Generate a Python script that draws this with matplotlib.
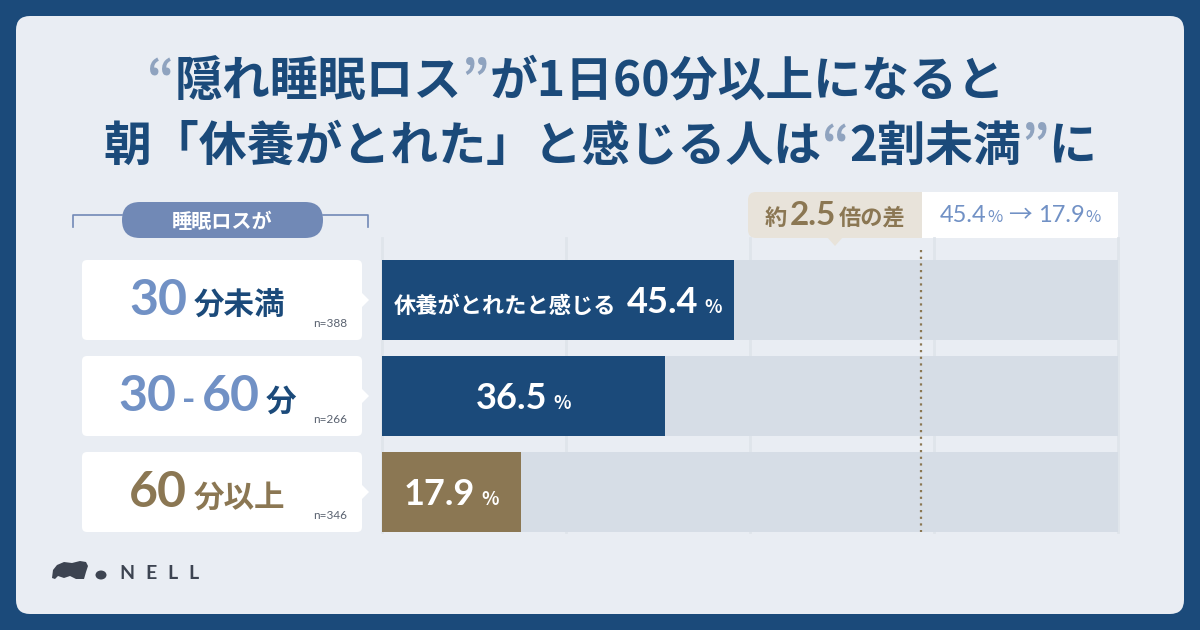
import matplotlib
matplotlib.use('Agg')
from matplotlib import pyplot as plt
from matplotlib.patches import FancyBboxPatch, Polygon, Ellipse, Rectangle

# ---------------------------------------------------------------------------
# data
# ---------------------------------------------------------------------------
title_line1 = ['“', '隠れ睡眠ロス', '”', 'が1日60分以上になると']
title_line2 = ['朝「休養がとれた」と感じる人は', '“', '2割未満', '”', 'に']
group_header = '睡眠ロスが'
group_nums = ['30', '30-60', '60']
group_units = ['分未満', '分', '分以上']
n_sizes = [388, 266, 346]
rested_pct = [45.4, 36.5, 17.9]
bar_prefix = '休養がとれたと感じる'
brand = 'NELL'

# ---------------------------------------------------------------------------
# styles
# ---------------------------------------------------------------------------
OUTER = '#1b4a7a'
PANEL = '#e9edf3'
NAVY = '#1b4a7a'
QUOTE = '#8fa3bf'
LIGHT_BLUE = '#7191c5'
BROWN = '#8b7753'
TRACK = '#d6dde6'
GRID = '#dfe5eb'
PILL = '#7189b6'
BEIGE = '#e8e3da'
GREY = '#5a6270'
LOGO = '#3d4451'

JP = ['Noto Sans CJK JP', 'DejaVu Sans']
NUM = ['Lato', 'Noto Sans CJK JP', 'DejaVu Sans']

bar_colors = [NAVY, NAVY, BROWN]
num_colors = [LIGHT_BLUE, LIGHT_BLUE, BROWN]
unit_colors = [NAVY, NAVY, BROWN]
XMAX = 95.0
TITLE_SIZE = 34.5

W, H = 1200, 630
fig = plt.figure(figsize=(W / 100, H / 100), dpi=100, facecolor=OUTER)
renderer = fig.canvas.get_renderer()


def pixel_axes(z):
    a = fig.add_axes([0, 0, 1, 1], zorder=z)
    a.set_xlim(0, W)
    a.set_ylim(H, 0)
    a.axis('off')
    return a


bg = pixel_axes(0)
ax = fig.add_axes([382 / W, 1 - 540 / H, 736 / W, 288 / H], zorder=1)
ax.axis('off')
top = pixel_axes(2)


def to_px(axis, x, y):
    dx, dy = axis.transData.transform((x, y))
    return dx, H - dy


def put_run(axis, x, y, pieces, align='center'):
    """pieces: (text, size, color, weight, family, gap after in px)"""
    texts, widths = [], []
    for s, size, color, weight, fam, gap in pieces:
        t = axis.text(0, y, s, fontsize=size, color=color, fontweight=weight,
                      family=fam, va='baseline', ha='left')
        texts.append(t)
        widths.append(t.get_window_extent(renderer).width + gap)
    total = sum(widths) - pieces[-1][5]
    if align == 'center':
        start = x - total / 2
    elif align == 'right':
        start = x - total
    else:
        start = x
    for t, w in zip(texts, widths):
        t.set_x(start)
        start += w


# panel
bg.add_patch(FancyBboxPatch((16, 16), W - 32, H - 32,
                            boxstyle='round,pad=0,rounding_size=14',
                            fc=PANEL, ec='none'))

# title
put_run(bg, 576, 96, [
    (title_line1[0], TITLE_SIZE, QUOTE, 'bold', JP, 0),
    (title_line1[1], TITLE_SIZE, NAVY, 'bold', JP, 0),
    (title_line1[2], TITLE_SIZE, QUOTE, 'bold', JP, 0),
    (title_line1[3], TITLE_SIZE, NAVY, 'bold', JP, 0)])
put_run(bg, 600, 161, [
    (title_line2[0], TITLE_SIZE, NAVY, 'bold', JP, 0),
    (title_line2[1], TITLE_SIZE, QUOTE, 'bold', JP, 0),
    (title_line2[2], TITLE_SIZE, NAVY, 'bold', JP, 0),
    (title_line2[3], TITLE_SIZE, QUOTE, 'bold', JP, 0),
    (title_line2[4], TITLE_SIZE, NAVY, 'bold', JP, 0)])

# header pill with bracket
bg.plot([73, 73, 122], [227, 215, 215], color=PILL, lw=1.2)
bg.plot([323, 368, 368], [215, 215, 227], color=PILL, lw=1.2)
bg.add_patch(FancyBboxPatch((122, 202), 201, 36,
                            boxstyle='round,pad=0,rounding_size=18',
                            fc=PILL, ec='none'))
bg.text(222, 221, group_header, fontsize=14.5, color='white', fontweight='bold',
        family=JP, ha='center', va='center')

# bars
rows = list(range(len(rested_pct)))
ax.barh(rows, [XMAX] * len(rows), height=0.833, color=TRACK, zorder=1)
ax.barh(rows, rested_pct, height=0.833, color=bar_colors, zorder=2)
ax.set_xlim(0, XMAX)
ax.set_ylim(len(rows) - 0.5, -0.5)
for f in [0, 0.25, 0.5, 0.75, 1.0]:
    ax.axvline(XMAX * f, ymin=0.028, ymax=1.049, color=GRID, lw=2,
               zorder=0, clip_on=False)

# ratio callout
ratio = rested_pct[0] / rested_pct[-1]
bg.add_patch(FancyBboxPatch((748, 192), 182, 46,
                            boxstyle='round,pad=0,rounding_size=8',
                            fc=BEIGE, ec='none'))
bg.add_patch(Polygon([(827, 237), (843, 237), (835, 246)], closed=True,
                     fc=BEIGE, ec='none'))
bg.add_patch(Rectangle((922, 192), 196, 46, fc='white', ec='none'))
put_run(bg, 835, 225, [
    ('約', 16, BROWN, 'bold', JP, 3),
    (f'{ratio:.1f}', 24, BROWN, 'bold', NUM, 3),
    ('倍の差', 16, BROWN, 'bold', JP, 0)])
put_run(bg, 1020, 222, [
    (f'{rested_pct[0]}', 17, LIGHT_BLUE, 'normal', NUM, 1),
    ('%', 12, LIGHT_BLUE, 'normal', JP, 6),
    ('→', 17, LIGHT_BLUE, 'normal', JP, 6),
    (f'{rested_pct[-1]}', 17, LIGHT_BLUE, 'normal', NUM, 1),
    ('%', 12, LIGHT_BLUE, 'normal', JP, 0)])
top.plot([921, 921], [250, 532], color=BROWN, lw=1.6, ls=(0, (1, 2)))

# row labels and value texts
for i, v in enumerate(rested_pct):
    _, cy = to_px(ax, 0, i)
    x_end, _ = to_px(ax, v, i)
    x0, _ = to_px(ax, 0, i)

    bg.add_patch(FancyBboxPatch((82, cy - 40), 280, 80,
                                boxstyle='round,pad=0,rounding_size=5',
                                fc='white', ec='none'))
    bg.add_patch(Polygon([(361, cy - 8), (369, cy), (361, cy + 8)],
                         closed=True, fc='white', ec='none'))

    parts = group_nums[i].split('-')
    pieces = []
    for k, p in enumerate(parts):
        pieces.append((p, 36, num_colors[i], 'bold', NUM, 6))
        if k < len(parts) - 1:
            pieces.append(('-', 26, num_colors[i], 'bold', NUM, 6))
    pieces.append((group_units[i], 22, unit_colors[i], 'bold', JP, 0))
    put_run(bg, 207, cy + 15, pieces)
    bg.text(347, cy + 27, f'n={n_sizes[i]}', fontsize=8.5, color=GREY,
            family=NUM, ha='right', va='baseline')

    vals = []
    if i == 0:
        vals.append((bar_prefix, 16, 'white', 'bold', JP, 10))
    vals.append((f'{v}', 26, 'white', 'bold', NUM, 6))
    vals.append(('%', 13, 'white', 'bold', JP, 0))
    put_run(top, (x0 + x_end) / 2, cy + 13, vals)

# logo
bg.add_patch(Polygon([(52, 578), (53, 570), (57, 565), (64, 562), (72, 563),
                      (80, 561), (86, 562), (88, 566), (86, 572), (84, 579),
                      (76, 579), (70, 576), (64, 578), (58, 576), (55, 579)],
                     closed=True, fc=LOGO, ec='none'))
bg.add_patch(Ellipse((101, 575), 11, 9, fc=LOGO, ec='none'))
put_run(bg, 119, 579, [(c, 14, LOGO, 'bold', NUM, 11) for c in brand],
        align='left')

fig.savefig('out.png', dpi=100, facecolor=OUTER)
